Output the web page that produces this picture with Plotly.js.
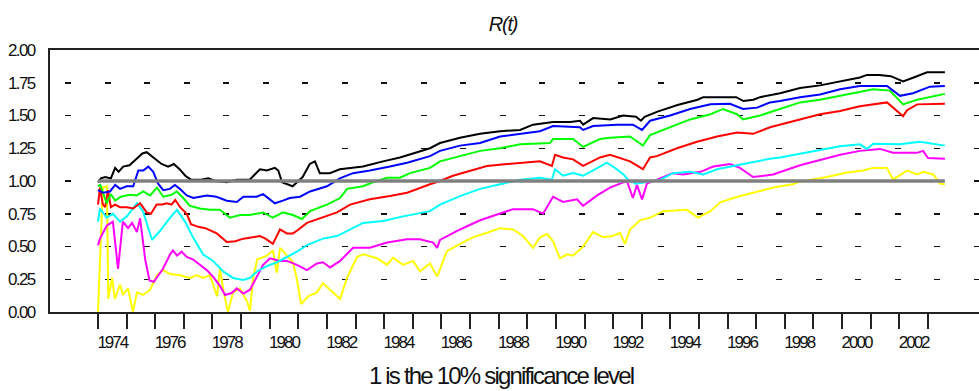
<!DOCTYPE html>
<html>
<head>
<meta charset="utf-8">
<script src="https://cdn.plot.ly/plotly-3.0.1.min.js"></script>
<style>
  html, body { margin: 0; padding: 0; background: #ffffff; }
  #chart { width: 979px; height: 391px; }
  #chart .xtick text { letter-spacing: -2px; }
  #chart .ytick text { letter-spacing: -1.6px; }
  #chart .gtitle { letter-spacing: -1.2px; }
  #chart .annotation-text { letter-spacing: -1.8px; }
</style>
</head>
<body>
<div id="chart"></div>
<script>
// ---- data (decimal years, R(t) values) ----
const yearTicks = [1974,1975,1976,1977,1978,1979,1980,1981,1982,1983,1984,1985,1986,1987,1988,1989,1990,1991,1992,1993,1994,1995,1996,1997,1998,1999,2000,2001,2002,2003];
const labelYears = ["1974","1976","1978","1980","1982","1984","1986","1988","1990","1992","1994","1996","1998","2000","2002"];
const yTickVals = [0,0.25,0.5,0.75,1,1.25,1.5,1.75,2];
const yTickText = ["0.00","0.25","0.50","0.75","1.00","1.25","1.50","1.75","2.00"];

const refX = [1974.0, 2003.59];
const refY = [1, 1];

const blackX = [1974.00,1974.10,1974.25,1974.45,1974.60,1974.72,1974.88,1975.10,1975.35,1975.55,1975.70,1975.87,1976.05,1976.22,1976.45,1976.65,1976.85,1977.05,1977.25,1977.60,1977.85,1978.10,1978.50,1978.85,1979.30,1979.66,1979.90,1980.18,1980.30,1980.43,1980.80,1981.15,1981.40,1981.58,1981.75,1982.10,1982.45,1982.80,1983.26,1983.96,1984.55,1985.15,1985.60,1985.95,1986.65,1987.35,1988.05,1988.75,1989.20,1989.90,1990.50,1990.84,1990.95,1991.30,1991.90,1992.35,1992.80,1992.97,1993.10,1993.55,1994.25,1994.95,1995.15,1996.30,1996.55,1996.90,1997.13,1997.83,1998.53,1999.23,1999.93,2000.62,2000.87,2001.30,2001.70,2002.13,2002.50,2002.97,2003.59];
const blackY = [0.99,1.02,1.03,1.02,1.10,1.07,1.11,1.12,1.17,1.21,1.22,1.19,1.16,1.13,1.11,1.13,1.09,1.04,1.01,1.01,1.02,1.00,0.99,1.01,1.01,1.09,1.08,1.10,1.08,0.99,0.96,1.03,1.13,1.15,1.06,1.06,1.09,1.10,1.11,1.15,1.18,1.22,1.25,1.29,1.33,1.36,1.38,1.39,1.43,1.45,1.45,1.46,1.43,1.48,1.47,1.50,1.49,1.46,1.49,1.53,1.58,1.62,1.64,1.64,1.61,1.62,1.64,1.67,1.71,1.73,1.76,1.79,1.81,1.81,1.80,1.76,1.79,1.83,1.83];

const blueX = [1974.00,1974.19,1974.42,1974.60,1974.77,1975.00,1975.23,1975.41,1975.58,1975.76,1975.93,1976.10,1976.28,1976.51,1976.69,1976.86,1977.10,1977.33,1977.80,1978.14,1978.50,1978.85,1979.08,1979.54,1979.77,1980.18,1980.46,1980.70,1981.06,1981.41,1982.00,1982.45,1982.91,1983.50,1984.20,1984.80,1985.60,1985.95,1986.65,1987.35,1988.05,1988.75,1989.44,1989.90,1990.84,1990.95,1991.30,1992.13,1992.69,1993.01,1993.29,1993.99,1994.69,1995.40,1996.08,1996.54,1997.03,1997.48,1997.83,1998.53,1999.23,1999.93,2000.62,2001.57,2002.02,2002.48,2003.07,2003.59];
const blueY = [0.93,0.91,0.92,0.97,0.94,0.96,0.96,1.08,1.08,1.11,1.07,0.98,0.93,0.94,0.97,0.94,0.89,0.87,0.89,0.88,0.85,0.84,0.88,0.88,0.90,0.83,0.85,0.87,0.88,0.92,0.96,1.02,1.06,1.08,1.11,1.14,1.19,1.23,1.27,1.29,1.34,1.36,1.38,1.42,1.41,1.39,1.42,1.43,1.43,1.39,1.46,1.50,1.55,1.585,1.59,1.55,1.56,1.60,1.61,1.64,1.66,1.70,1.725,1.725,1.65,1.67,1.72,1.725];

const greenX = [1974.00,1974.08,1974.30,1974.45,1974.60,1974.80,1975.12,1975.35,1975.58,1975.82,1976.06,1976.28,1976.57,1976.75,1976.98,1977.21,1977.56,1977.91,1978.26,1978.61,1978.96,1979.30,1979.77,1980.11,1980.46,1980.81,1981.13,1981.41,1982.00,1982.46,1982.70,1983.26,1983.61,1984.10,1984.55,1984.90,1985.60,1985.95,1986.65,1987.35,1988.05,1988.75,1989.79,1989.90,1990.60,1990.95,1991.54,1991.89,1992.59,1993.04,1993.29,1993.99,1994.69,1995.40,1995.84,1996.33,1996.54,1997.13,1997.83,1998.53,1999.23,1999.93,2000.38,2001.08,2001.67,2002.13,2002.62,2003.07,2003.59];
const greenY = [0.96,0.97,0.83,0.90,0.85,0.88,0.895,0.89,0.92,0.89,0.95,0.88,0.895,0.92,0.87,0.81,0.79,0.78,0.78,0.72,0.74,0.74,0.76,0.72,0.76,0.74,0.71,0.77,0.82,0.87,0.94,0.96,0.99,1.025,1.025,1.06,1.10,1.15,1.19,1.23,1.25,1.28,1.29,1.32,1.32,1.26,1.32,1.33,1.34,1.27,1.35,1.41,1.47,1.51,1.55,1.51,1.47,1.50,1.55,1.60,1.62,1.65,1.67,1.70,1.69,1.585,1.62,1.64,1.665];

const redX = [1974.00,1974.07,1974.17,1974.25,1974.35,1974.45,1974.60,1974.77,1975.01,1975.23,1975.47,1975.70,1975.85,1976.05,1976.25,1976.40,1976.57,1976.70,1976.87,1977.10,1977.25,1977.50,1977.75,1977.95,1978.15,1978.50,1978.80,1979.08,1979.40,1979.66,1979.85,1980.11,1980.36,1980.60,1980.81,1980.95,1981.30,1981.86,1982.35,1982.81,1983.50,1984.20,1984.80,1985.60,1985.95,1986.40,1987.00,1987.59,1988.29,1988.75,1989.44,1989.86,1989.97,1990.25,1990.60,1990.95,1991.54,1991.89,1992.59,1993.04,1993.29,1993.53,1994.23,1994.93,1995.63,1996.33,1996.89,1997.48,1998.53,1999.23,1999.93,2000.62,2001.57,2002.13,2002.27,2002.62,2003.59];
const redY = [0.82,0.95,0.82,0.80,0.93,0.80,0.82,0.80,0.80,0.79,0.83,0.76,0.75,0.82,0.82,0.83,0.82,0.855,0.80,0.75,0.67,0.65,0.64,0.62,0.60,0.535,0.54,0.56,0.57,0.58,0.56,0.52,0.63,0.60,0.60,0.62,0.68,0.72,0.76,0.82,0.86,0.885,0.91,0.975,1.00,1.04,1.075,1.115,1.13,1.14,1.15,1.115,1.20,1.18,1.165,1.115,1.18,1.20,1.15,1.09,1.18,1.19,1.25,1.30,1.34,1.37,1.36,1.41,1.47,1.51,1.535,1.57,1.60,1.495,1.54,1.585,1.59];

const cyanX = [1974.00,1974.07,1974.30,1974.52,1974.77,1975.01,1975.36,1975.57,1975.89,1976.17,1976.52,1976.76,1977.04,1977.32,1977.67,1978.02,1978.37,1978.72,1979.07,1979.31,1979.56,1979.90,1980.25,1980.60,1980.95,1981.30,1981.86,1982.35,1982.81,1983.26,1983.96,1984.66,1985.60,1985.95,1986.65,1987.35,1988.05,1988.75,1989.44,1989.86,1989.97,1990.25,1990.60,1990.95,1991.54,1991.78,1992.13,1992.36,1992.52,1992.80,1993.10,1993.65,1994.09,1994.69,1995.15,1995.63,1996.33,1996.78,1997.48,1997.83,1998.53,1999.23,1999.93,2000.62,2000.87,2001.08,2002.02,2002.72,2003.59];
const cyanY = [0.69,0.79,0.72,0.75,0.69,0.73,0.83,0.77,0.55,0.62,0.72,0.78,0.69,0.57,0.44,0.39,0.31,0.26,0.245,0.26,0.31,0.35,0.38,0.42,0.46,0.51,0.56,0.58,0.63,0.68,0.695,0.73,0.77,0.82,0.885,0.94,0.975,1.01,1.025,1.01,1.09,1.04,1.06,1.04,1.11,1.14,1.09,1.05,1.01,0.98,0.99,1.01,1.06,1.07,1.05,1.09,1.12,1.14,1.17,1.18,1.21,1.24,1.265,1.28,1.245,1.285,1.28,1.30,1.27];

const magentaX = [1974.00,1974.07,1974.31,1974.52,1974.70,1974.87,1975.05,1975.19,1975.36,1975.47,1975.65,1975.80,1975.95,1976.17,1976.27,1976.52,1976.62,1976.76,1976.92,1977.10,1977.33,1977.56,1977.80,1978.02,1978.26,1978.44,1978.67,1978.85,1979.08,1979.31,1979.55,1979.77,1980.01,1980.36,1980.60,1980.95,1981.30,1981.65,1981.86,1982.11,1982.46,1982.91,1983.50,1984.10,1984.80,1985.25,1985.71,1985.85,1985.95,1986.65,1987.35,1988.05,1988.50,1989.20,1989.55,1989.90,1990.25,1990.74,1990.95,1991.44,1991.89,1992.24,1992.48,1992.69,1992.83,1993.01,1993.18,1993.53,1994.09,1994.44,1995.05,1995.50,1996.08,1996.43,1996.89,1997.59,1998.53,1999.23,1999.93,2000.62,2001.32,2001.78,2002.62,2002.83,2003.00,2003.59];
const magentaY = [0.51,0.56,0.66,0.69,0.33,0.69,0.64,0.68,0.61,0.715,0.40,0.24,0.23,0.30,0.33,0.44,0.47,0.43,0.46,0.42,0.40,0.36,0.32,0.27,0.20,0.13,0.145,0.18,0.14,0.17,0.27,0.36,0.41,0.39,0.39,0.36,0.32,0.37,0.38,0.34,0.39,0.49,0.49,0.53,0.555,0.555,0.53,0.49,0.55,0.63,0.70,0.755,0.785,0.785,0.75,0.88,0.84,0.86,0.81,0.89,0.95,0.98,1.00,0.87,0.97,0.86,0.98,1.01,1.06,1.05,1.07,1.11,1.13,1.10,1.03,1.05,1.12,1.16,1.20,1.23,1.245,1.215,1.215,1.23,1.175,1.17];

const yellowX = [1974.00,1974.10,1974.17,1974.31,1974.36,1974.49,1974.59,1974.77,1974.87,1975.05,1975.22,1975.36,1975.57,1975.82,1976.06,1976.27,1976.52,1976.87,1977.21,1977.46,1977.67,1977.91,1978.02,1978.16,1978.26,1978.37,1978.54,1978.72,1978.96,1979.21,1979.31,1979.42,1979.56,1979.90,1980.11,1980.25,1980.36,1980.60,1980.81,1980.95,1981.10,1981.34,1981.65,1981.86,1982.11,1982.18,1982.46,1982.70,1983.05,1983.26,1983.75,1984.10,1984.31,1984.66,1985.01,1985.25,1985.60,1985.85,1986.19,1986.65,1987.10,1987.59,1988.05,1988.50,1988.85,1989.20,1989.44,1989.69,1989.90,1990.14,1990.39,1990.60,1990.95,1991.30,1991.65,1991.99,1992.24,1992.41,1992.59,1992.94,1993.29,1993.75,1994.58,1994.96,1995.40,1995.73,1996.19,1996.89,1997.59,1998.28,1998.53,1999.47,2000.17,2000.73,2001.08,2001.57,2001.78,2002.13,2002.27,2002.62,2002.83,2003.18,2003.42,2003.59];
const yellowY = [0.00,0.50,0.95,0.96,0.10,0.26,0.10,0.21,0.13,0.18,0.00,0.15,0.13,0.17,0.28,0.32,0.29,0.28,0.26,0.28,0.26,0.28,0.21,0.12,0.33,0.18,0.00,0.15,0.18,0.08,0.01,0.26,0.40,0.43,0.47,0.30,0.49,0.43,0.38,0.25,0.06,0.12,0.15,0.22,0.17,0.16,0.10,0.26,0.42,0.44,0.41,0.36,0.415,0.36,0.39,0.31,0.37,0.27,0.465,0.52,0.57,0.605,0.64,0.63,0.58,0.49,0.57,0.595,0.54,0.41,0.44,0.43,0.50,0.61,0.57,0.58,0.605,0.52,0.63,0.70,0.72,0.77,0.78,0.72,0.77,0.835,0.87,0.91,0.95,0.975,0.995,1.03,1.065,1.08,1.10,1.10,1.01,1.06,1.08,1.05,1.07,1.05,0.98,0.975];

// ---- chart ----
const FONT = "'Liberation Sans', Arial, sans-serif";
const INK = '#111111';
function line(x, y, color, width) {
  return { type: 'scatter', mode: 'lines', x: x, y: y, line: { color: color, width: width }, hoverinfo: 'skip', showlegend: false };
}
const traces = [
  line(yellowX, yellowY, '#ffff00', 2),
  line(magentaX, magentaY, '#ff00ff', 2),
  line(cyanX, cyanY, '#00ffff', 2),
  line(redX, redY, '#ff0000', 2),
  line(greenX, greenY, '#00ff00', 2),
  line(blueX, blueY, '#0000ff', 2),
  line(blackX, blackY, '#000000', 2),
  line(refX, refY, '#808080', 3.5)
];

const layout = {
  width: 979, height: 391,
  margin: { l: 50, r: 0, t: 50, b: 79, pad: 0 },
  paper_bgcolor: '#ffffff', plot_bgcolor: '#ffffff',
  showlegend: false,
  hovermode: false,
  font: { family: FONT, color: INK, size: 17 },
  title: {
    text: 'R(t)',
    font: { family: FONT, size: 20, style: 'italic', color: INK },
    x: 0.4876, xref: 'paper', xanchor: 'center',
    y: 0.938, yref: 'container', yanchor: 'middle'
  },
  xaxis: {
    range: [1972.323, 2004.783],
    tickmode: 'array',
    tickvals: labelYears.map(function (s) { return Number(s) + 0.5; }),
    ticktext: labelYears,
    ticks: '',
    ticklabelstandoff: 14,
    tickfont: { family: FONT, size: 17, color: INK },
    showgrid: false, zeroline: false,
    showline: true, mirror: true, linecolor: '#222222', linewidth: 2,
    minor: { tickmode: 'array', tickvals: yearTicks, ticks: 'outside', ticklen: 15, tickwidth: 2, tickcolor: '#222222', showgrid: false },
    fixedrange: true
  },
  yaxis: {
    range: [0, 2],
    tickmode: 'array',
    tickvals: yTickVals,
    ticktext: yTickText,
    ticks: '',
    ticklabelstandoff: 10,
    tickfont: { family: FONT, size: 17, color: INK },
    showgrid: true, gridcolor: '#111111', gridwidth: 1.5, griddash: '0px,15px,6px,18.52px',
    zeroline: false,
    showline: true, mirror: false, linecolor: '#222222', linewidth: 2,
    fixedrange: true
  },
  annotations: [{
    text: '1 is the 10% significance level',
    xref: 'paper', yref: 'paper', x: 0.486, y: -0.244,
    xanchor: 'center', yanchor: 'middle', showarrow: false,
    font: { family: FONT, size: 24, color: INK }
  }]
};

Plotly.newPlot('chart', traces, layout, { staticPlot: true, displayModeBar: false });
</script>
</body>
</html>
